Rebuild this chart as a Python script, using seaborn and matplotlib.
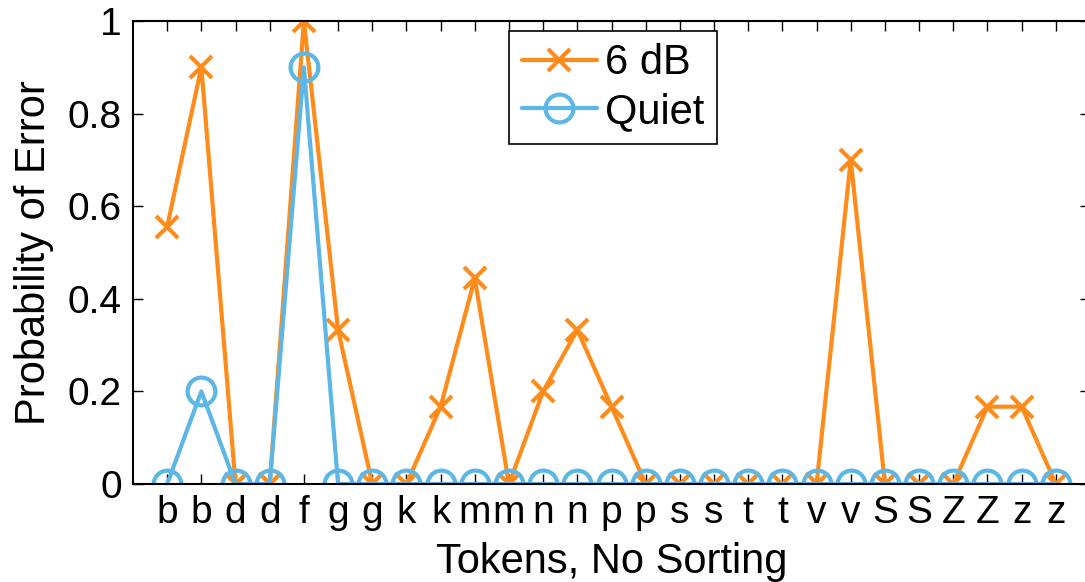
import matplotlib
matplotlib.use("Agg")
import matplotlib.pyplot as plt
import seaborn as sns
import numpy as np
import pandas as pd

tokens = ["b", "b", "d", "d", "f", "g", "g", "k", "k", "m", "m", "n", "n", "p",
          "p", "s", "s", "t", "t", "v", "v", "S", "S", "Z", "Z", "z", "z"]
err_6db = [0.556, 0.9, 0, 0, 1.0, 0.333, 0, 0, 0.167, 0.444, 0, 0.2, 0.333, 0.167,
           0, 0, 0, 0, 0, 0, 0.7, 0, 0, 0, 0.167, 0.167, 0]
err_quiet = [0, 0.2, 0, 0, 0.9, 0, 0, 0, 0, 0, 0, 0, 0, 0,
             0, 0, 0, 0, 0, 0, 0, 0, 0, 0, 0, 0, 0]
yticks = [0, 0.2, 0.4, 0.6, 0.8, 1]
ytick_labels = ["0", "0.2", "0.4", "0.6", "0.8", "1"]

sns.set_style("ticks")
plt.rcParams['font.family'] = ['Liberation Sans', 'DejaVu Sans']
plt.rcParams['text.color'] = 'black'
plt.rcParams['axes.labelcolor'] = 'black'
plt.rcParams['xtick.color'] = 'black'
plt.rcParams['ytick.color'] = 'black'
plt.rcParams['axes.edgecolor'] = 'black'

orange = "#ff8c1a"
blue = "#5cb6e6"

pos = np.arange(1, len(tokens) + 1)
df = pd.DataFrame({"pos": pos, "e6": err_6db, "eq": err_quiet})

fig = plt.figure(figsize=(10.85, 5.82), dpi=100)
ax = fig.add_axes([133 / 1085, 1 - 484 / 582, (1090 - 133) / 1085, (484 - 21) / 582])

sns.lineplot(data=df, x="pos", y="e6", ax=ax, color=orange, linewidth=3,
             marker="x", markersize=16, markeredgewidth=3,
             markeredgecolor=orange, label="6 dB")
sns.lineplot(data=df, x="pos", y="eq", ax=ax, color=blue, linewidth=3,
             marker="o", markersize=20, markerfacecolor="none",
             markeredgecolor=blue, markeredgewidth=3, label="Quiet")

ax.set_xlim(0, len(tokens) + 1)
ax.set_ylim(0, 1)
ax.set_xticks(pos)
ax.set_xticklabels(tokens, fontsize=28)
ax.set_yticks(yticks)
ax.set_yticklabels(ytick_labels, fontsize=28)
ax.tick_params(direction="in", length=7, width=1, top=True, right=True, pad=8)
for s in ax.spines.values():
    s.set_visible(True)
    s.set_linewidth(1.5)
ax.set_xlabel("Tokens, No Sorting", fontsize=30, labelpad=8)
ax.set_ylabel("Probability of Error", fontsize=30, labelpad=10)

leg = ax.legend(loc="upper left", bbox_to_anchor=(509 / 1085, 1 - 31 / 582),
                bbox_transform=fig.transFigure, fontsize=30, frameon=True,
                fancybox=False, framealpha=1, borderpad=0.3, handlelength=1.8,
                handletextpad=0.2, labelspacing=0.2, borderaxespad=0)
leg.get_frame().set_edgecolor("black")
leg.get_frame().set_linewidth(1.2)

fig.savefig("out.png", dpi=100)
